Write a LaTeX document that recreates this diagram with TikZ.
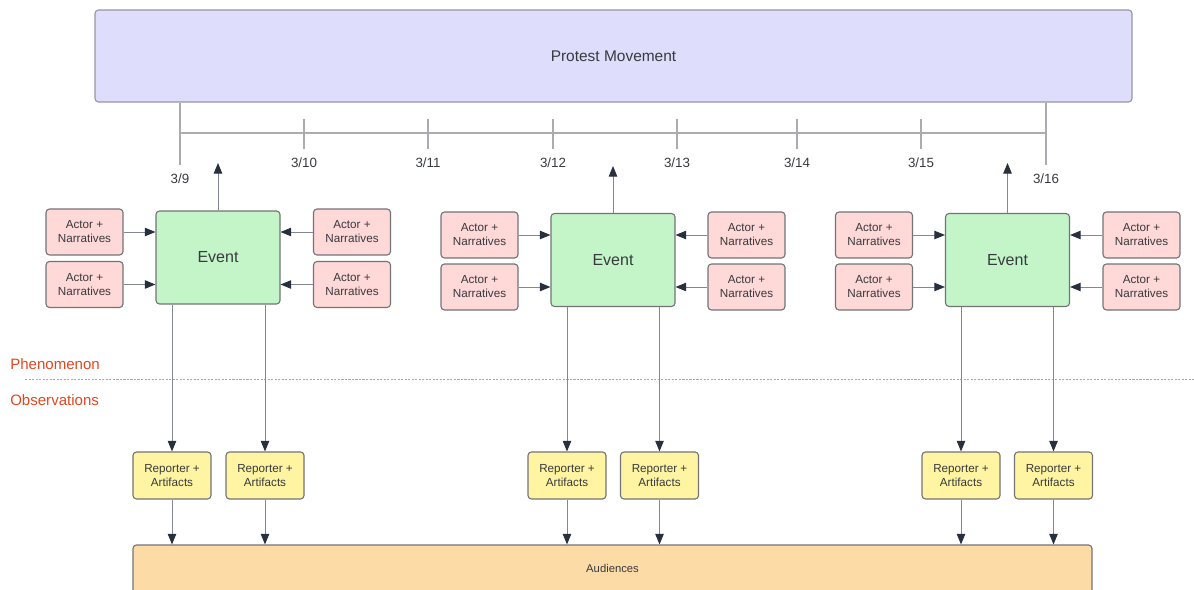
\documentclass[tikz,border=0pt]{standalone}
\usepackage{fontspec}
\setmainfont{Liberation Sans}
\usetikzlibrary{arrows.meta}
\definecolor{topfill}{RGB}{222,222,252}
\definecolor{topdraw}{RGB}{150,150,165}
\definecolor{evfill}{RGB}{196,245,200}
\definecolor{acfill}{RGB}{255,216,216}
\definecolor{repfill}{RGB}{255,244,162}
\definecolor{audfill}{RGB}{253,219,166}
\definecolor{boxdraw}{RGB}{115,115,120}
\definecolor{txt}{RGB}{55,58,62}
\definecolor{linec}{RGB}{130,135,145}
\definecolor{tipc}{RGB}{40,48,62}
\definecolor{tlc}{RGB}{170,172,178}
\definecolor{redlbl}{RGB}{222,72,32}
\tikzset{
  box/.style={draw=boxdraw, line width=0.8pt, rounded corners=2.5pt, text=txt, align=center, inner sep=0pt},
  topbox/.style={box, draw=topdraw, fill=topfill, minimum width={1037*0.025cm}, minimum height={92*0.025cm}, font=\fontsize{11}{13}\selectfont},
  evbox/.style={box, fill=evfill, minimum width={124*0.025cm}, minimum height={93*0.025cm}, font=\fontsize{11.4}{13}\selectfont},
  acbox/.style={box, fill=acfill, minimum width={77*0.025cm}, minimum height={46*0.025cm}, font=\fontsize{8.3}{10}\selectfont},
  repbox/.style={box, fill=repfill, minimum width={78*0.025cm}, minimum height={47*0.025cm}, font=\fontsize{8.3}{10}\selectfont},
  audbox/.style={box, fill=audfill, minimum width={959*0.025cm}, minimum height={70*0.025cm}},
  audtext/.style={text=txt, font=\fontsize{8}{10}\selectfont, inner sep=0pt},
  conn/.style={draw=linec, line width=0.7pt, -{Triangle[length=7.5pt, width=6pt, color=tipc]}},
  tl/.style={draw=tlc, line width=0.8pt},
  datelbl/.style={text=txt, font=\fontsize{9.5}{11}\selectfont, inner sep=0pt},
  sidelbl/.style={text=redlbl, font=\fontsize{10.7}{12}\selectfont, inner sep=0pt, anchor=west},
  sep/.style={draw=gray!70, line width=0.5pt, dash pattern=on 1.5pt off 1pt}
}
\begin{document}
\begin{tikzpicture}[x=0.025cm, y=-0.025cm]
\useasboundingbox (0,0) rectangle (1194,590);
\clip (0,0) rectangle (1194,590);

% top box
\node[topbox] (top) at (613.5,56) {Protest Movement};

% timeline
\coordinate (tlL) at (180,133);
\coordinate (tlR) at (1046,133);
\draw[tl] (top.south -| tlL) -- (180,165);
\draw[tl] (top.south -| tlR) -- (1046,165);
\draw[tl] (tlL) -- (tlR);
\foreach \x in {304,428,553,677,797,921}{
  \draw[tl] (\x,119) -- (\x,149);
}
\node[datelbl] (d9) at (180,179) {3/9};
\node[datelbl] (d10) at (304,163) {3/10};
\node[datelbl] (d11) at (428,163) {3/11};
\node[datelbl] (d12) at (553,163) {3/12};
\node[datelbl] (d13) at (677,163) {3/13};
\node[datelbl] (d14) at (797,163) {3/14};
\node[datelbl] (d15) at (921,163) {3/15};
\node[datelbl] (d16) at (1046,179) {3/16};

% separator
\draw[sep] (25,379) -- (1194,379);
\node[sidelbl] (phen) at (10,364) {Phenomenon};
\node[sidelbl] (obs) at (10,400) {Observations};

% audiences
\node[audbox] (aud) at (612.5,580) {};
\node[audtext] (audl) at (612.5,568) {Audiences};

% group 1
\node[evbox] (ev1) at (218,257.5) {Event};
\node[acbox] (a1a) at (84.5,232) {Actor +\\Narratives};
\node[acbox] (a1b) at (84.5,284.5) {Actor +\\Narratives};
\node[acbox] (a1c) at (352,232) {Actor +\\Narratives};
\node[acbox] (a1d) at (352,284.5) {Actor +\\Narratives};
\coordinate (up1) at (218,163);
\node[repbox] (r1a) at (172,475.5) {Reporter +\\Artifacts};
\node[repbox] (r1b) at (265,475.5) {Reporter +\\Artifacts};

% group 2
\node[evbox] (ev2) at (613,260) {Event};
\node[acbox] (a2a) at (479.5,235) {Actor +\\Narratives};
\node[acbox] (a2b) at (479.5,287) {Actor +\\Narratives};
\node[acbox] (a2c) at (746.5,235) {Actor +\\Narratives};
\node[acbox] (a2d) at (746.5,287) {Actor +\\Narratives};
\coordinate (up2) at (613,166);
\node[repbox] (r2a) at (567,475.5) {Reporter +\\Artifacts};
\node[repbox] (r2b) at (659.5,475.5) {Reporter +\\Artifacts};

% group 3
\node[evbox] (ev3) at (1007.5,260) {Event};
\node[acbox] (a3a) at (874,235) {Actor +\\Narratives};
\node[acbox] (a3b) at (874,287) {Actor +\\Narratives};
\node[acbox] (a3c) at (1141.5,235) {Actor +\\Narratives};
\node[acbox] (a3d) at (1141.5,287) {Actor +\\Narratives};
\coordinate (up3) at (1007.5,163);
\node[repbox] (r3a) at (961,475.5) {Reporter +\\Artifacts};
\node[repbox] (r3b) at (1053.5,475.5) {Reporter +\\Artifacts};

% connectors
\foreach \g in {1,2,3}{
  \draw[conn] (ev\g.north) -- (up\g);
  \draw[conn] (a\g a.east) -- (a\g a.east -| ev\g.west);
  \draw[conn] (a\g b.east) -- (a\g b.east -| ev\g.west);
  \draw[conn] (a\g c.west) -- (a\g c.west -| ev\g.east);
  \draw[conn] (a\g d.west) -- (a\g d.west -| ev\g.east);
  \draw[conn] (r\g a.north |- ev\g.south) -- (r\g a.north);
  \draw[conn] (r\g b.north |- ev\g.south) -- (r\g b.north);
  \draw[conn] (r\g a.south) -- (r\g a.south |- aud.north);
  \draw[conn] (r\g b.south) -- (r\g b.south |- aud.north);
}
\end{tikzpicture}
\end{document}
